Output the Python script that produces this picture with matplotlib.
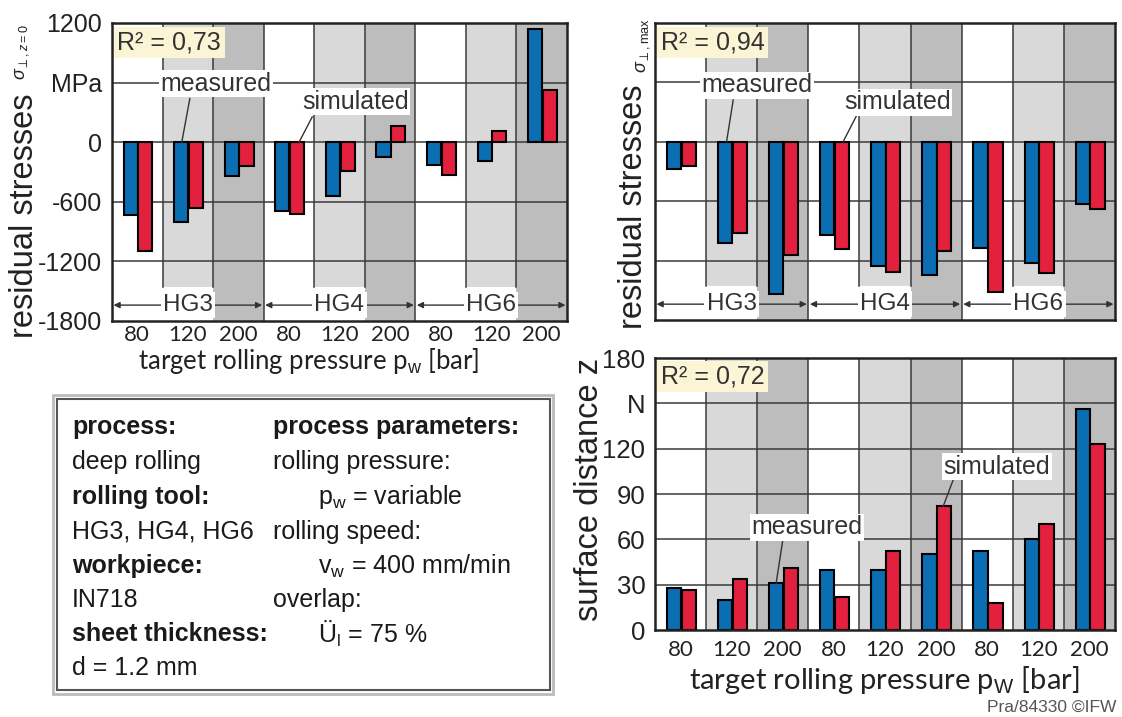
import matplotlib
matplotlib.use('Agg')
import matplotlib.pyplot as plt
from matplotlib.patches import Rectangle

plt.rcParams['font.family'] = ['Liberation Sans', 'DejaVu Sans']
plt.rcParams['mathtext.fontset'] = 'custom'
plt.rcParams['mathtext.rm'] = 'Liberation Sans'
plt.rcParams['mathtext.it'] = 'Liberation Sans:italic'
plt.rcParams['mathtext.bf'] = 'Liberation Sans:bold'

# ---------------- data ----------------
pressures = ['80', '120', '200', '80', '120', '200', '80', '120', '200']
tools = ['HG3', 'HG4', 'HG6']
res_z0_measured = [-730, -800, -345, -690, -540, -150, -225, -185, 1140]
res_z0_simulated = [-1100, -660, -235, -720, -285, 165, -335, 115, 530]
res_max_measured = [-275, -1025, -1535, -945, -1250, -1350, -1070, -1220, -630]
res_max_simulated = [-245, -925, -1140, -1080, -1320, -1100, -1515, -1330, -680]
z_measured = [28, 20, 31, 40, 40, 50, 52, 60, 146]
z_simulated = [26.5, 34, 41, 22, 52, 82, 18, 70, 123]
r2_z0, r2_max, r2_z = '0,73', '0,94', '0,72'
stress_ticks = [-1800, -1200, -600, 0, 600, 1200]
stress_ticklabels = ['-1800', '-1200', '-600', '0', 'MPa', '1200']
z_ticks = [0, 30, 60, 90, 120, 150, 180]
z_ticklabels = ['0', '30', '60', '90', '120', 'N', '180']

W, H = 1122, 717
fig = plt.figure(figsize=(W / 100, H / 100), dpi=100)
fig.patch.set_facecolor('white')

BLUE = '#0b6db2'
RED = '#e3203d'
LG = '#d9d9d9'
DG = '#bdbdbd'
GRID = '#3a3a3a'
XFONT = 'Lato'


def px_axes(x0, y0, x1, y1):
    return fig.add_axes([x0 / W, 1 - y1 / H, (x1 - x0) / W, (y1 - y0) / H])


def draw_panel(ax, meas, sim, ylim, ticks, ticklabels, band=None, show_y=True, show_x=True,
               yfs=18):
    n = len(pressures)
    ax.set_xlim(-0.5, n - 0.5)
    ax.set_ylim(*ylim)
    frac = 0 if band is None else (band - ylim[0]) / (ylim[1] - ylim[0])
    for i in range(n):
        k = i % 3
        if k == 1:
            ax.axvspan(i - 0.5, i + 0.5, ymin=frac, ymax=1, color=LG, lw=0, zorder=0)
        elif k == 2:
            ax.axvspan(i - 0.5, i + 0.5, color=DG, lw=0, zorder=0)
    for y in ticks[1:-1]:
        ax.axhline(y, color=GRID, lw=1.1, zorder=1)
    for i in range(1, n):
        if i % 3 == 0:
            ax.axvline(i - 0.5, color=GRID, lw=1.1, zorder=1)
        else:
            ax.axvline(i - 0.5, ymin=frac, ymax=1, color=GRID, lw=1.1, zorder=1)
    x = list(range(n))
    ax.bar([v - 0.13 for v in x], meas, 0.28, color=BLUE, edgecolor='black', lw=1.5, zorder=3)
    ax.bar([v + 0.16 for v in x], sim, 0.28, color=RED, edgecolor='black', lw=1.5, zorder=3)
    ax.set_yticks(ticks)
    if show_y:
        ax.set_yticklabels(ticklabels, fontsize=yfs, color='#222222')
    else:
        ax.set_yticklabels([])
    ax.set_xticks(x)
    if show_x:
        ax.set_xticklabels(pressures, fontsize=16, family=XFONT, color='#222222')
    else:
        ax.set_xticklabels([])
    ax.tick_params(length=0, pad=7)
    for s in ax.spines.values():
        s.set_linewidth(1.8)
        s.set_color('#222222')
        s.set_zorder(6)


def r2_box(ax, val):
    ax.text(0.012, 0.975, 'R\u00b2 = ' + val, transform=ax.transAxes, fontsize=18,
            ha='left', va='top', color='#333333', zorder=7,
            bbox=dict(facecolor='#fbf5d6', edgecolor='none', pad=2.5))


def label(ax, txt, tx, ty, lx0, ly0, lx1, ly1):
    ax.plot([lx0, lx1], [ly0, ly1], color='#333333', lw=1.0, zorder=4)
    ax.text(tx, ty, txt, fontsize=18, ha='center', va='center', color='#333333', zorder=5,
            bbox=dict(facecolor='white', edgecolor='none', pad=1.0))


def hg_arrows(ax, y):
    for g, name in enumerate(tools):
        x0 = g * 3 - 0.5
        x1 = g * 3 + 2.5
        ax.annotate('', xy=(x0 + 0.03, y), xytext=(x1 - 0.03, y), zorder=4,
                    arrowprops=dict(arrowstyle='<|-|>', color='#333333', lw=1.0,
                                    mutation_scale=9, shrinkA=0, shrinkB=0))
        ax.text(g * 3 + 1, y, name, fontsize=17.5, ha='center', va='center', color='#333333',
                zorder=5, bbox=dict(facecolor='white', edgecolor='none', pad=1.5))


# ---------------- top-left: residual stresses at z=0 ----------------
ax1 = px_axes(112, 23, 567, 321)
draw_panel(ax1, res_z0_measured, res_z0_simulated, (-1800, 1200), stress_ticks,
           stress_ticklabels, band=-1458)
ax1.tick_params(axis='x', pad=3)
hg_arrows(ax1, -1640)
r2_box(ax1, r2_z0)
label(ax1, 'measured', 1.55, 590, 1.04, 440, 0.88, 0)
label(ax1, 'simulated', 4.31, 405, 3.46, 254, 3.2, 0)
ax1.set_xlabel('target rolling pressure p$_\\mathrm{w}$ [bar]', fontsize=18.5, family=XFONT,
               color='#222222')
ax1.xaxis.set_label_coords((309 - 112) / 455, -(346 - 321) / 298)

# ---------------- top-right: max residual stresses ----------------
ax2 = px_axes(655, 23, 1115, 320)
draw_panel(ax2, res_max_measured, res_max_simulated, (-1800, 1200), stress_ticks,
           stress_ticklabels, band=-1458, show_y=False, show_x=False)
hg_arrows(ax2, -1640)
r2_box(ax2, r2_max)
label(ax2, 'measured', 1.5, 570, 1.03, 422, 0.9, 0)
label(ax2, 'simulated', 4.24, 402, 3.45, 271, 3.18, 0)

# ---------------- bottom-right: surface distance ----------------
ax3 = px_axes(655, 358, 1115, 630)
draw_panel(ax3, z_measured, z_simulated, (0, 180), z_ticks, z_ticklabels, yfs=18.5)
r2_box(ax3, r2_z)
label(ax3, 'measured', 2.47, 68, 2.0, 59.5, 1.87, 31)
label(ax3, 'simulated', 6.19, 108, 5.33, 99, 5.14, 82)
ax3.tick_params(axis='x', pad=7)
ax3.set_xlabel('target rolling pressure p$_\\mathrm{W}$ [bar]', fontsize=21, family=XFONT,
               color='#222222')
ax3.xaxis.set_label_coords((884 - 655) / 460, -(664 - 630) / 272)

# ---------------- y labels ----------------
fig.text(25 / W, 1 - 216 / H, 'residual stresses', rotation=90, fontsize=23.5,
         ha='center', va='center', color='#222222')
fig.text(22 / W, 1 - 52 / H, '$\\sigma_{\\perp,z=0}$', rotation=90, fontsize=13,
         ha='center', va='center', color='#222222')
fig.text(634 / W, 1 - 207 / H, 'residual stresses', rotation=90, fontsize=23.5,
         ha='center', va='center', color='#222222')
fig.text(643 / W, 1 - 45 / H, '$\\sigma_{\\perp,\\mathrm{max}}$', rotation=90, fontsize=13,
         ha='center', va='center', color='#222222')
fig.text(589 / W, 1 - 489 / H, 'surface distance z', rotation=90, fontsize=23.5,
         ha='center', va='center', color='#222222')

# ---------------- info box ----------------
fig.add_artist(Rectangle((53 / W, 1 - 694 / H), 500 / W, 299 / H, transform=fig.transFigure,
                         facecolor='white', edgecolor='#bbbbbb', lw=2.0, zorder=1))
fig.add_artist(Rectangle((57 / W, 1 - 690 / H), 493 / W, 291 / H, transform=fig.transFigure,
                         facecolor='white', edgecolor='#555555', lw=1.5, zorder=2))
left_rows = [('process:', True), ('deep rolling', False), ('rolling tool:', True),
             ('HG3, HG4, HG6', False), ('workpiece:', True), ('IN718', False),
             ('sheet thickness:', True), ('d = 1.2 mm', False)]
right_rows = [('process parameters:', True, 273), ('rolling pressure:', False, 273),
              ('p$_\\mathrm{w}$ = variable', False, 318), ('rolling speed:', False, 273),
              ('v$_\\mathrm{w}$ = 400 mm/min', False, 318), ('overlap:', False, 273),
              ('\u00dc$_\\mathrm{l}$ = 75 %', False, 318)]
row_y = [427, 462, 497, 532, 566, 600, 634, 668]
for (t, b), y in zip(left_rows, row_y):
    fig.text(72 / W, 1 - y / H, t, fontsize=18, fontweight='bold' if b else 'normal',
             ha='left', va='center', color='#1a1a1a', zorder=3)
for (t, b, xx), y in zip(right_rows, row_y):
    fig.text(xx / W, 1 - y / H, t, fontsize=18, fontweight='bold' if b else 'normal',
             ha='left', va='center', color='#1a1a1a', zorder=3)

fig.text(1116 / W, 1 - 707 / H, 'Pra/84330 \u00a9IFW', fontsize=12.5, ha='right', va='center',
         color='#555555')

fig.savefig('out.png', dpi=100)
